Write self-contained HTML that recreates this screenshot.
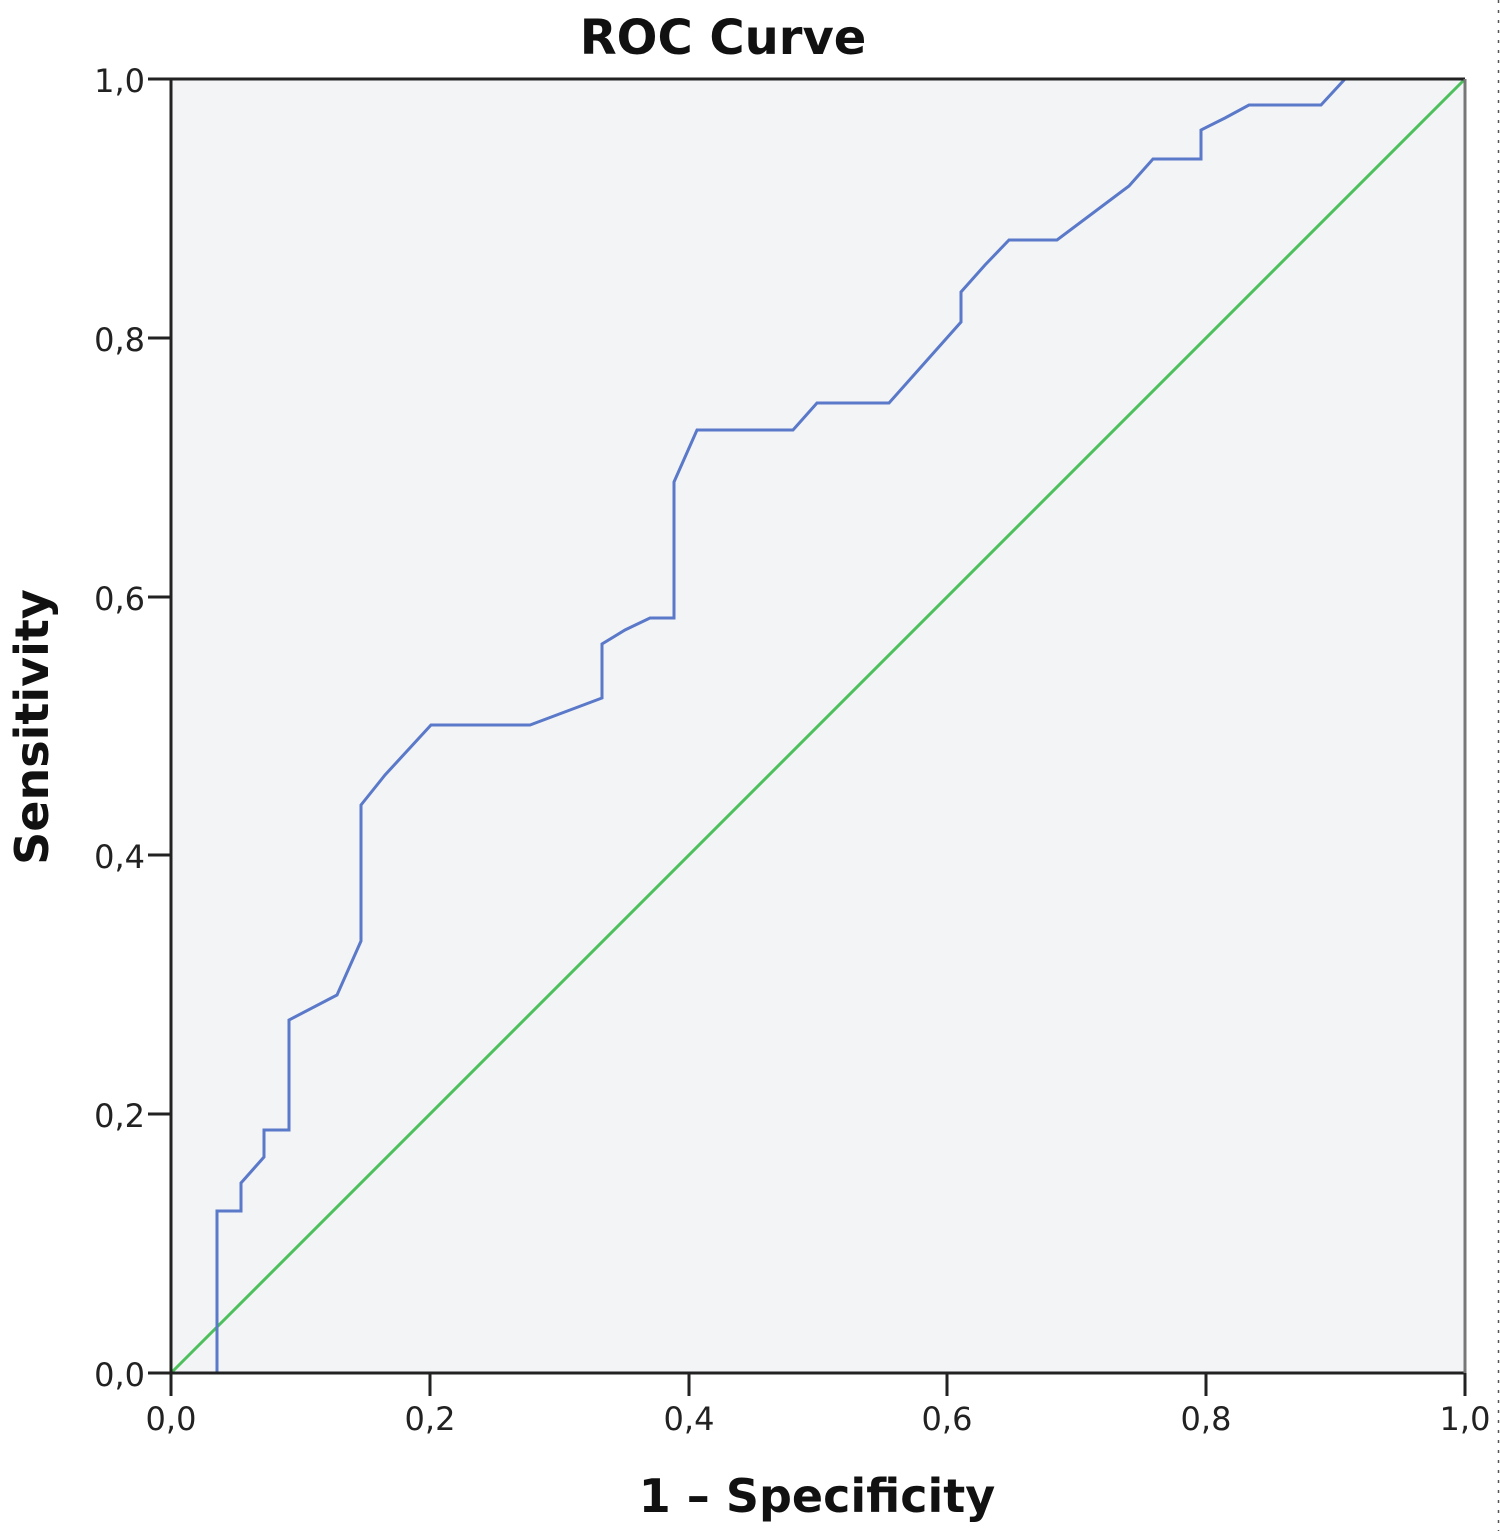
<!DOCTYPE html>
<html><head><meta charset="utf-8"><style>
html,body{margin:0;padding:0;background:#fff;}
svg{display:block;}
</style></head><body>
<svg width="1500" height="1531" viewBox="0 0 1500 1531" xmlns="http://www.w3.org/2000/svg">
<rect x="0" y="0" width="1500" height="1531" fill="#fff"/>
<line x1="1498.5" y1="0" x2="1498.5" y2="1531" stroke="#555" stroke-width="1.5" stroke-dasharray="3,7"/>
<rect x="171" y="79" width="1294" height="1294" fill="#f3f4f6"/>
<text x="723" y="54" text-anchor="middle" font-family="DejaVu Sans, Liberation Sans, sans-serif" font-weight="bold" font-size="48" fill="#111">ROC Curve</text>
<line x1="171" y1="1373" x2="1465" y2="79" stroke="#4dbf5c" stroke-width="3"/>
<polyline fill="none" stroke="#5b79c9" stroke-width="3" stroke-linejoin="miter" points="171,1373 217,1373 217,1211 241,1211 241,1183 264,1157 264,1130 289,1130 289,1020 337,995 361,941 361,805 385,775 431,725 530,725 602,698 602,644 625,630 650,618 674,618 674,482 697,430 793,430 817,403 889,403 961,322 961,292 985,265 1009,240 1057,240 1129,186 1153,159 1201,159 1201,130 1225,118 1249,105 1321,105 1345,79 1465,79"/>
<g stroke="#222" stroke-width="3" fill="none">
<line x1="171" y1="79" x2="1465" y2="79"/>
<line x1="171" y1="1373" x2="1465" y2="1373"/>
<line x1="171" y1="78" x2="171" y2="1374"/>
</g>
<line x1="1465" y1="79" x2="1465" y2="1373" stroke="#777" stroke-width="3"/>
<g stroke="#222" stroke-width="3">
<line x1="148" y1="79" x2="171" y2="79"/>
<line x1="148" y1="338" x2="171" y2="338"/>
<line x1="148" y1="597" x2="171" y2="597"/>
<line x1="148" y1="855" x2="171" y2="855"/>
<line x1="148" y1="1114" x2="171" y2="1114"/>
<line x1="148" y1="1373" x2="171" y2="1373"/>
<line x1="171" y1="1373" x2="171" y2="1396"/>
<line x1="430" y1="1373" x2="430" y2="1396"/>
<line x1="689" y1="1373" x2="689" y2="1396"/>
<line x1="947" y1="1373" x2="947" y2="1396"/>
<line x1="1206" y1="1373" x2="1206" y2="1396"/>
<line x1="1465" y1="1373" x2="1465" y2="1396"/>
</g>
<g font-family="DejaVu Sans, Liberation Sans, sans-serif" font-size="32" fill="#222" text-anchor="end">
<text x="145" y="92">1,0</text>
<text x="145" y="351">0,8</text>
<text x="145" y="610">0,6</text>
<text x="145" y="868">0,4</text>
<text x="145" y="1127">0,2</text>
<text x="145" y="1386">0,0</text>
</g>
<g font-family="DejaVu Sans, Liberation Sans, sans-serif" font-size="32" fill="#222" text-anchor="middle">
<text x="171" y="1430">0,0</text>
<text x="430" y="1430">0,2</text>
<text x="689" y="1430">0,4</text>
<text x="947" y="1430">0,6</text>
<text x="1206" y="1430">0,8</text>
<text x="1465" y="1430">1,0</text>
</g>
<text x="817" y="1512" text-anchor="middle" font-family="DejaVu Sans, Liberation Sans, sans-serif" font-weight="bold" font-size="46" fill="#111">1 – Specificity</text>
<text transform="translate(48,727) rotate(-90)" text-anchor="middle" font-family="DejaVu Sans, Liberation Sans, sans-serif" font-weight="bold" font-size="46" fill="#111">Sensitivity</text>
</svg>
</body></html>
